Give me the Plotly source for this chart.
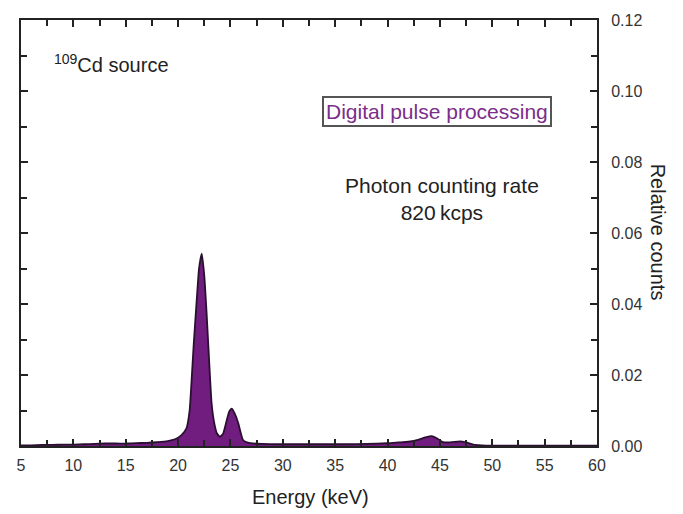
import plotly.graph_objects as go

energy_kev = [5, 6, 7, 8, 9, 10, 11, 12, 13, 14,
              15, 16, 17, 18, 19, 19.7, 20.3, 20.8, 21.1, 21.3,
              21.5, 21.8, 22.0, 22.26, 22.5, 22.73, 23.0, 23.2, 23.45, 23.7,
              24.0, 24.3, 24.65, 24.9, 25.12, 25.4, 25.75, 26.0, 26.2, 26.5,
              26.9, 28, 30, 32, 34, 36, 38, 40, 41, 42,
              43, 43.6, 44.2, 44.7, 45.3, 46, 46.9, 47.5, 48.2, 49,
              50, 55, 60]
relative_counts = [0.0002, 0.0002, 0.0003, 0.0003, 0.0004, 0.0004, 0.0005, 0.0006, 0.0007, 0.0007,
                   0.0007, 0.0008, 0.0009, 0.0011, 0.0014, 0.0019, 0.0030, 0.0050, 0.010, 0.019,
                   0.029, 0.042, 0.050, 0.0542, 0.048, 0.037, 0.022, 0.012, 0.0065, 0.0036,
                   0.0026, 0.0035, 0.0073, 0.0098, 0.0105, 0.0092, 0.0064, 0.0035, 0.0017, 0.0011,
                   0.0008, 0.0006, 0.0005, 0.0005, 0.0005, 0.0005, 0.0006, 0.0008, 0.0010, 0.0012,
                   0.0018, 0.0024, 0.0028, 0.0022, 0.0011, 0.0010, 0.0013, 0.0010, 0.0004, 0.0002,
                   0.0001, 0.0001, 0.0001]
x_ticks = [5, 10, 15, 20, 25, 30, 35, 40, 45, 50, 55, 60]
y_ticks = [0.00, 0.02, 0.04, 0.06, 0.08, 0.10, 0.12]

FONT = "Liberation Sans, Arial, sans-serif"

fig = go.Figure()
fig.add_trace(go.Scatter(
    x=energy_kev, y=relative_counts, mode="lines",
    line=dict(color="#2a1030", width=1.8, shape="spline", smoothing=0.5),
    fill="tozeroy", fillcolor="#711c7f", showlegend=False,
))

axis_common = dict(
    showgrid=False, zeroline=False, showline=True, linecolor="#222",
    linewidth=2, mirror="ticks", ticks="inside", ticklen=7, tickwidth=1.5,
    tickcolor="#222", tickfont=dict(family=FONT, size=16, color="#333"),
)

fig.update_layout(
    width=683, height=514,
    margin=dict(l=21, r=86, t=16, b=68),
    paper_bgcolor="white", plot_bgcolor="white",
    font=dict(family=FONT, color="#222"),
    xaxis=dict(range=[5, 60], tickvals=x_ticks, ticktext=[str(v) for v in x_ticks],
               ticklabelstandoff=4,
               minor=dict(dtick=2.5, tick0=5, ticks="inside", ticklen=6, tickcolor="#222"),
               **axis_common),
    yaxis=dict(range=[0, 0.12], side="right", tickvals=y_ticks,
               ticktext=[f"{v:.2f}" for v in y_ticks], ticklabelstandoff=9,
               minor=dict(dtick=0.01, tick0=0, ticks="inside", ticklen=6, tickcolor="#222"),
               **axis_common),
)

fig.add_annotation(xref="paper", yref="paper", x=0.054, y=0.898, xanchor="left", yanchor="middle",
                   text="<sup>109</sup>Cd source", showarrow=False,
                   font=dict(family=FONT, size=20, color="#222"))
fig.add_annotation(xref="paper", yref="paper", x=0.722, y=0.786, xanchor="center", yanchor="middle",
                   text="Digital pulse processing", showarrow=False,
                   font=dict(family=FONT, size=21, color="#7b2d8b"),
                   bordercolor="#555", borderwidth=2, borderpad=2, bgcolor="white")
fig.add_annotation(xref="paper", yref="paper", x=0.731, y=0.579, xanchor="center", yanchor="middle",
                   text="Photon counting rate<br>820\u2009kcps", showarrow=False, align="center",
                   font=dict(family=FONT, size=21, color="#222"))
fig.add_annotation(xref="paper", yref="paper", x=1.105, y=0.502, xanchor="center", yanchor="middle",
                   text="Relative counts", textangle=90, showarrow=False,
                   font=dict(family=FONT, size=20, color="#222"))
fig.add_annotation(xref="paper", yref="paper", x=0.502, y=-0.119, xanchor="center", yanchor="middle",
                   text="Energy (keV)", showarrow=False,
                   font=dict(family=FONT, size=20, color="#222"))

fig.write_html("out.html")
